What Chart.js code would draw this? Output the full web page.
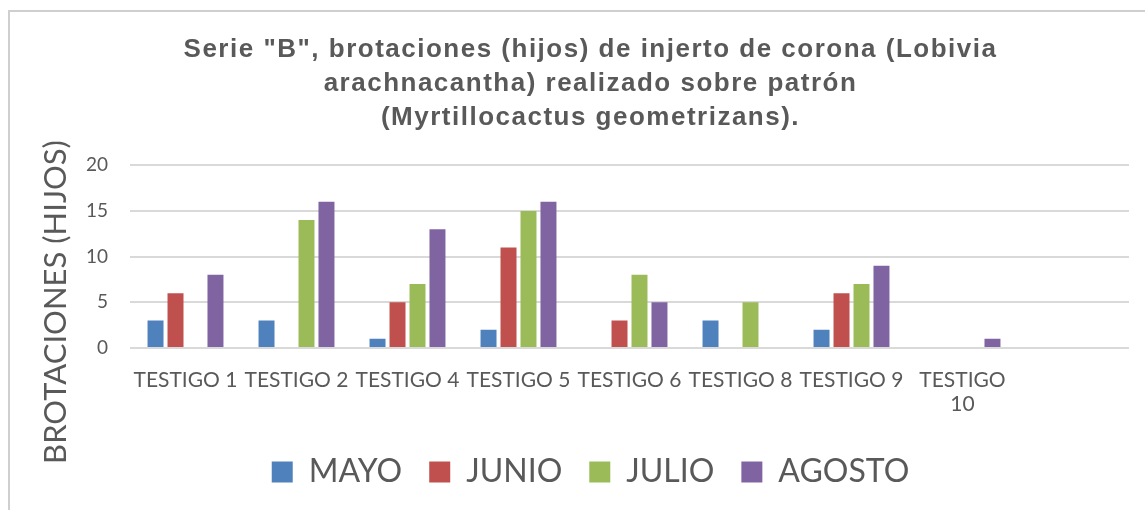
<!DOCTYPE html>
<html>
<head>
<meta charset="utf-8">
<script src="https://cdn.jsdelivr.net/npm/chart.js@4/dist/chart.umd.min.js"></script>
<style>
  html, body { margin: 0; padding: 0; background: #fff; }
  #wrap { position: relative; width: 1145px; height: 510px; overflow: hidden; }
  #frame { position: absolute; left: 8px; top: 10px; width: 1200px; height: 600px;
           border-top: 2px solid #cfcfcf; border-left: 2px solid #cfcfcf; }
  #myChart { position: absolute; left: 0; top: 0; }
</style>
</head>
<body>
<div id="wrap">
  <div id="frame"></div>
  <canvas id="myChart" width="1145" height="510"></canvas>
</div>
<script>
const categorias = ['TESTIGO 1', 'TESTIGO 2', 'TESTIGO 4', 'TESTIGO 5', 'TESTIGO 6', 'TESTIGO 8', 'TESTIGO 9', ['TESTIGO', '10'], ''];
const mayo   = [3, 3, 1, 2, 0, 3, 2, 0, null];
const junio  = [6, 0, 5, 11, 3, 0, 6, 0, null];
const julio  = [0, 14, 7, 15, 8, 5, 7, 0, null];
const agosto = [8, 16, 13, 16, 5, 0, 9, 1, null];

const titulo = ['Serie "B", brotaciones (hijos) de injerto de corona (Lobivia', 'arachnacantha) realizado sobre patrón', '(Myrtillocactus geometrizans).'];
const tituloEje = 'BROTACIONES (HIJOS)';

const gris = '#595959';
const sans = 'Lato, "Open Sans", sans-serif';

// titulo del eje Y dibujado a mano para poder centrarlo como en Excel
const yTitlePlugin = {
    id: 'yTitle',
    afterDraw(chart) {
        const c = chart.ctx;
        c.save();
        c.translate(56, 302);
        c.rotate(-Math.PI / 2);
        c.font = '31px ' + sans;
        c.fillStyle = gris;
        c.textAlign = 'center';
        c.textBaseline = 'middle';
        c.fillText(tituloEje, 0, 0);
        c.restore();
    }
};

const ctx = document.getElementById('myChart').getContext('2d');

let chart = new Chart(ctx, {
    type: 'bar',
    data: {
        labels: categorias,
        datasets: [
            { label: 'MAYO', data: mayo, backgroundColor: '#4f81bd' },
            { label: 'JUNIO', data: junio, backgroundColor: '#c0504d' },
            { label: 'JULIO', data: julio, backgroundColor: '#9bbb59' },
            { label: 'AGOSTO', data: agosto, backgroundColor: '#8064a2' }
        ]
    },
    options: {
        responsive: false,
        animation: false,
        categoryPercentage: 0.72,
        barPercentage: 0.8,
        layout: { padding: { left: 52, right: 16, top: 0, bottom: 12 } },
        plugins: {
            title: {
                display: true,
                text: titulo,
                color: gris,
                font: { family: '"Liberation Sans", Arial, sans-serif', size: 26, weight: 'bold', lineHeight: 1.31 },
                padding: { top: 33, bottom: 30 }
            },
            legend: {
                position: 'bottom',
                labels: {
                    color: gris,
                    boxWidth: 21,
                    boxHeight: 21,
                    padding: 27,
                    font: { family: sans, size: 32 }
                }
            },
            tooltip: { enabled: false }
        },
        scales: {
            x: {
                grid: { display: false },
                border: { display: false },
                ticks: {
                    color: gris,
                    padding: 12,
                    maxRotation: 0,
                    autoSkip: false,
                    font: { family: sans, size: 21, lineHeight: 1.15 }
                },
                afterFit(scale) { scale.height = 81; }
            },
            y: {
                min: 0,
                max: 20,
                ticks: {
                    stepSize: 5,
                    color: gris,
                    padding: 22,
                    font: { family: sans, size: 19 }
                },
                grid: { color: '#d9d9d9', lineWidth: 2, drawTicks: false },
                border: { display: false },
                afterFit(scale) { scale.width = 78; }
            }
        }
    },
    plugins: [yTitlePlugin]
});

// el titulo de Excel va algo mas espaciado
const tb = chart.titleBlock;
const drawTitle = tb.draw.bind(tb);
tb.draw = function () {
    this.ctx.save();
    this.ctx.letterSpacing = '1.5px';
    drawTitle();
    this.ctx.restore();
};
chart.update();
</script>
</body>
</html>
